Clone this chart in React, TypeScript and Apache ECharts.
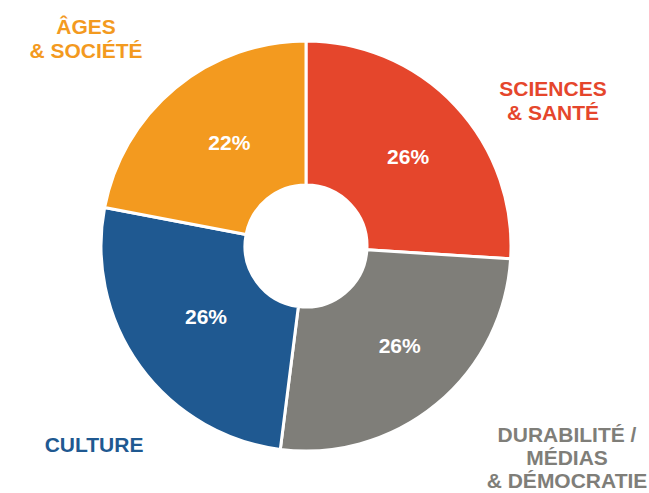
import React, { useEffect, useRef } from "react";
import * as echarts from "echarts";

const categories = ["SCIENCES & SANTÉ", "DURABILITÉ / MÉDIAS & DÉMOCRATIE", "CULTURE", "ÂGES & SOCIÉTÉ"];
const values = [26, 26, 26, 22];
const colors = ["#E5462C", "#7F7E79", "#1F5991", "#F39A1F"];
const outerLabels = [
  ["SCIENCES", "& SANTÉ"],
  ["DURABILITÉ /", "MÉDIAS", "& DÉMOCRATIE"],
  ["CULTURE"],
  ["ÂGES", "& SOCIÉTÉ"],
];

const FONT = "'Liberation Sans', Arial, Helvetica, sans-serif";
const pctOffsets = [
  [3, 4],
  [7, -5],
  [10, -9],
  [10, 1],
];
const labelPos = [
  { x: 553, y: 88, step: 24 },
  { x: 567, y: 434, step: 23 },
  { x: 94, y: 444, step: 24 },
  { x: 86, y: 26, step: 24 },
];

export default function App() {
  const ref = useRef<HTMLDivElement>(null);
  useEffect(() => {
    if (!ref.current) return;
    const chart = echarts.init(ref.current, undefined, { renderer: "svg" });
    const graphics: any[] = [];
    outerLabels.forEach((lines, i) => {
      lines.forEach((line, k) => {
        graphics.push({
          type: "text",
          x: labelPos[i].x,
          y: labelPos[i].y + k * labelPos[i].step,
          style: {
            text: line,
            fill: colors[i],
            font: `bold 21px ${FONT}`,
            align: "center",
            verticalAlign: "middle",
            lineHeight: 16,
          },
        });
      });
    });
    chart.setOption({
      animation: false,
      backgroundColor: "#ffffff",
      series: [
        {
          type: "pie",
          center: [306, 246],
          radius: [61, 205],
          startAngle: 90,
          clockwise: true,
          avoidLabelOverlap: false,
          itemStyle: { borderColor: "#ffffff", borderWidth: 3 },
          label: {
            show: true,
            position: "inside",
            formatter: (p: any) => p.value + "%",
            color: "#ffffff",
            fontFamily: FONT,
            fontWeight: "bold",
            fontSize: 21,
          },
          labelLine: { show: false },
          data: categories.map((c, i) => ({
            name: c,
            value: values[i],
            itemStyle: { color: colors[i] },
            label: { offset: pctOffsets[i] },
          })),
        },
      ],
      graphic: graphics,
    });
    return () => chart.dispose();
  }, []);
  return <div ref={ref} style={{ width: 649, height: 493, position: "absolute", left: 0, top: 0 }} />;
}
